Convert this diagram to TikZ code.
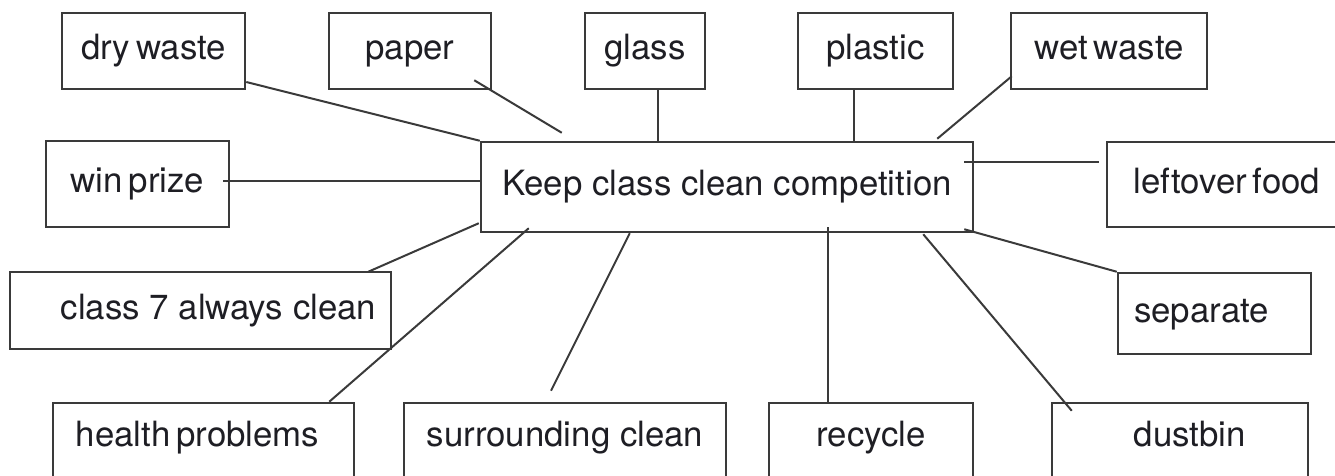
\documentclass[tikz,border=0pt]{standalone}
\usepackage{fontspec}
\setmainfont{TeX Gyre Heros}
\usepackage{xcolor}
\usepackage{tikz}
\usetikzlibrary{calc}

\definecolor{inkgray}{HTML}{3A3A3A}
\definecolor{textgray}{HTML}{1E1E24}
\newcommand\tightspacing{\spaceskip 0.17em plus 0.05em\relax}

\begin{document}
\begin{tikzpicture}[
  x=0.5pt, y=-0.5pt,
  box/.style={draw=inkgray, line width=1.25pt, inner sep=0pt, minimum height=38pt,
    text height=12.5pt, text depth=3.5pt,
    text=textgray, font=\fontsize{17.4}{20}\selectfont},
  tight/.style={font=\fontsize{17.4}{20}\selectfont\tightspacing},
  bottombox/.style={box, minimum height=38.5pt, text depth=7.5pt},
  link/.style={draw=inkgray, line width=1pt}
]
\useasboundingbox (0,0) rectangle (1335,476);
\clip (0,0) rectangle (1335,476);
\node[box, minimum width=246pt, minimum height=45pt] (hub) at (727,187) {Keep class clean competition};
\node[box, tight, minimum width=91.5pt] (dry) at (153.5,51) {dry waste};
\node[box, minimum width=81pt] (paper) at (410,51) {paper};
\node[box, minimum width=60pt] (glass) at (645,51) {glass};
\node[box, minimum width=77.5pt] (plastic) at (875.5,51) {plastic};
\node[box, tight, minimum width=98pt] (wet) at (1109,51) {wet waste};
\node[box, tight, minimum width=91.5pt, minimum height=43pt] (win) at (137.5,184) {win prize};
\node[box, tight, minimum width=120pt, minimum height=42.5pt] (food) at (1227,184.5) {leftover food};
\node[box, minimum width=190.5pt, minimum height=38.5pt] (always) at (200.5,310.5) {\hspace*{18pt}class 7 always clean};
\node[box, minimum width=96.5pt, minimum height=40.5pt] (separate) at (1214.5,313.5) {separate\hspace*{13pt}};
\node[bottombox, tight, minimum width=150.5pt] (health) at (203.5,441.5) {health problems\hspace*{6pt}};
\node[bottombox, minimum width=161pt] (surround) at (565,441.5) {surrounding clean};
\node[bottombox, minimum width=102pt] (recycle) at (871,441.5) {recycle};
\node[bottombox, minimum width=128pt] (dustbin) at (1180,441.5) {\hspace*{10pt}dustbin};
\draw[link] ($(dry.east)+(0,31)$) -- (hub.north west);
\draw[link] ($(paper.south east)+(-18,-10)$) -- ($(hub.north west)+(82,-8)$);
\draw[link] ($(glass.south)+(13,0)$) coordinate (g) -- (g |- hub.north);
\draw[link] ($(plastic.south)+(-21.5,0)$) coordinate (p) -- (p |- hub.north);
\draw[link] ($(wet.south west)+(2,-14)$) -- ($(hub.north east)+(-37,-2)$);
\draw[link] ($(win.east)+(-7,-3)$) coordinate (w) -- (w -| hub.west);
\draw[link] ($(hub.east)+(-10,-25)$) coordinate (l) -- ($(l -| food.west)+(-7,0)$);
\draw[link] ($(always.north east)+(-24,1)$) -- ($(hub.south west)+(-1,-10)$);
\draw[link] ($(health.north east)+(-26,0)$) -- ($(hub.south west)+(49,-5)$);
\draw[link] ($(surround.north)+(-14,-11)$) -- ($(hub.south west)+(150,0)$);
\draw[link] ($(recycle.north)+(-43,0)$) coordinate (r) -- ($(r |- hub.south)+(0,-6)$);
\draw[link] ($(hub.south east)+(-51,1)$) -- ($(dustbin.north west)+(21,9)$);
\draw[link] ($(hub.south east)+(-10,-4)$) -- (separate.north west);
\end{tikzpicture}
\end{document}
